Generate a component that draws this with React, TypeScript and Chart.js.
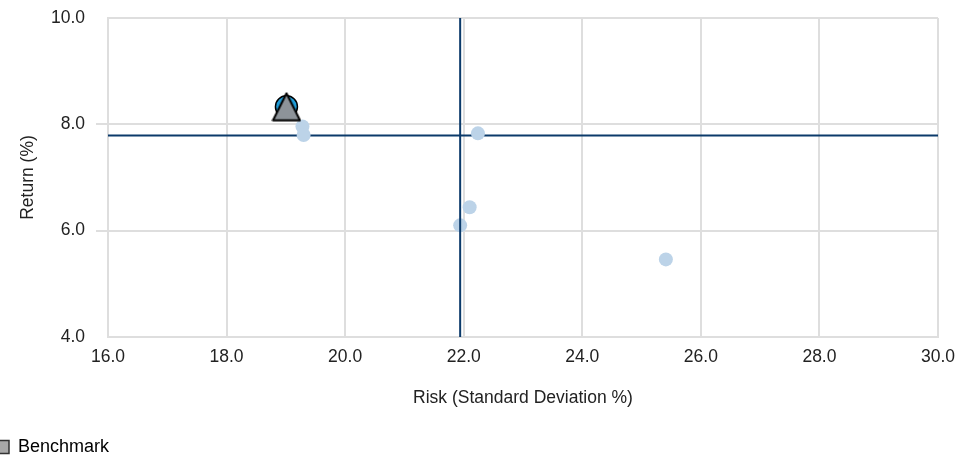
import React, { useEffect, useRef } from 'react';
import { Chart, registerables } from 'chart.js';

Chart.register(...registerables);

// Peer universe (risk = standard deviation %, return %)
const peerRisk = [19.28, 19.30, 22.24, 22.10, 21.94, 25.41];
const peerReturn = [7.96, 7.80, 7.83, 6.44, 6.10, 5.46];

// Fund
const fundRisk = [19.01];
const fundReturn = [8.33];

// Benchmark
const benchmarkRisk = [19.01];
const benchmarkReturn = [8.33];

// Average lines (quadrant)
const avgRisk = 21.94;
const avgReturn = 7.79;

// Axis ranges
const xMin = 16, xMax = 30, xStep = 2;
const yMin = 4, yMax = 10, yStep = 2;

const xTitle = 'Risk (Standard Deviation %)';
const yTitle = 'Return (%)';
const legendLabel = 'Benchmark';

const FONT = "'Liberation Sans', Arial, sans-serif";
const FS = 17.5;
const GRID = '#dedede';
const NAVY = '#0b3a6a';
const TEXT = '#222222';

function makeTriangle(): HTMLCanvasElement {
  const c = document.createElement('canvas');
  c.width = 30;
  c.height = 30;
  const g = c.getContext('2d')!;
  g.beginPath();
  g.moveTo(15, 1.5);
  g.lineTo(28.5, 28.5);
  g.lineTo(1.5, 28.5);
  g.closePath();
  g.fillStyle = '#8d9399';
  g.fill();
  g.lineWidth = 2;
  g.lineJoin = 'round';
  g.strokeStyle = '#000000';
  g.stroke();
  return c;
}

export default function App() {
  const ref = useRef<HTMLCanvasElement | null>(null);

  useEffect(() => {
    if (!ref.current) return;
    document.body.style.margin = '0';
    const tri = makeTriangle();
    const chart = new Chart(ref.current, {
      type: 'scatter',
      data: {
        datasets: [
          {
            label: 'Fund',
            data: fundRisk.map((x, i) => ({ x, y: fundReturn[i] })),
            backgroundColor: '#1f9ad6',
            borderColor: '#000000',
            borderWidth: 1.5,
            pointRadius: 11,
            pointStyle: 'circle',
            order: 2,
          },
          {
            label: legendLabel,
            data: benchmarkRisk.map((x, i) => ({ x, y: benchmarkReturn[i] })),
            backgroundColor: '#8d9399',
            borderColor: '#000000',
            pointRadius: 15,
            pointStyle: tri as any,
            order: 1,
          },
          {
            label: 'Peers',
            data: peerRisk.map((x, i) => ({ x, y: peerReturn[i] })),
            backgroundColor: '#bcd3e8',
            borderWidth: 0,
            pointRadius: 7,
            order: 4,
          },
          {
            label: 'Average Risk',
            data: [{ x: avgRisk, y: yMin }, { x: avgRisk, y: yMax }],
            showLine: true,
            borderColor: NAVY,
            borderWidth: 2,
            pointRadius: 0,
            order: 3,
          },
          {
            label: 'Average Return',
            data: [{ x: xMin, y: avgReturn }, { x: xMax, y: avgReturn }],
            showLine: true,
            borderColor: NAVY,
            borderWidth: 2,
            pointRadius: 0,
            order: 5,
          },
        ],
      },
      options: {
        animation: false,
        responsive: true,
        maintainAspectRatio: false,
        layout: { autoPadding: false, padding: { left: -13, right: 31, top: 10, bottom: 0 } },
        plugins: {
          tooltip: { enabled: false },
          legend: {
            display: true,
            position: 'bottom',
            align: 'start',
            labels: {
              boxWidth: 12,
              boxHeight: 13,
              padding: 10,
              color: TEXT,
              font: { family: FONT, size: 18 },
              generateLabels: () => [
                {
                  text: legendLabel,
                  fillStyle: '#a8a8a8',
                  strokeStyle: '#333333',
                  lineWidth: 1.5,
                  hidden: false,
                  datasetIndex: 1,
                },
              ],
            },
          },
        },
        scales: {
          x: {
            type: 'linear',
            min: xMin,
            max: xMax,
            afterFit: (s: any) => {
              s.height = 91;
              s.paddingLeft = 0;
              s.paddingRight = 0;
            },
            ticks: {
              stepSize: xStep,
              padding: 10,
              color: TEXT,
              font: { family: FONT, size: FS },
              callback: (v: any) => Number(v).toFixed(1),
            },
            grid: { color: GRID, lineWidth: 2, drawTicks: false },
            border: { color: GRID, width: 2 },
            title: {
              display: true,
              text: xTitle,
              color: TEXT,
              font: { family: FONT, size: FS },
              padding: { top: 0, bottom: 19 },
            },
          },
          y: {
            type: 'linear',
            min: yMin,
            max: yMax,
            afterFit: (s: any) => {
              s.width = 121;
              s.paddingTop = 0;
              s.paddingBottom = 0;
            },
            ticks: {
              stepSize: yStep,
              padding: 11,
              color: TEXT,
              font: { family: FONT, size: FS },
              callback: (v: any) => Number(v).toFixed(1),
            },
            grid: {
              color: GRID,
              lineWidth: 2,
              tickLength: 12,
              tickColor: (ctx: any) =>
                ctx.tick && (ctx.tick.value === yMin || ctx.tick.value === yMax)
                  ? 'rgba(0,0,0,0)'
                  : GRID,
            },
            border: { color: GRID, width: 2 },
            title: {
              display: true,
              text: yTitle,
              color: TEXT,
              font: { family: FONT, size: FS },
              padding: { top: 31, bottom: 0 },
            },
          },
        },
      },
    });
    return () => chart.destroy();
  }, []);

  return (
    <div style={{ position: 'relative', width: 969, height: 458, marginTop: 8 }}>
      <canvas ref={ref} />
    </div>
  );
}
